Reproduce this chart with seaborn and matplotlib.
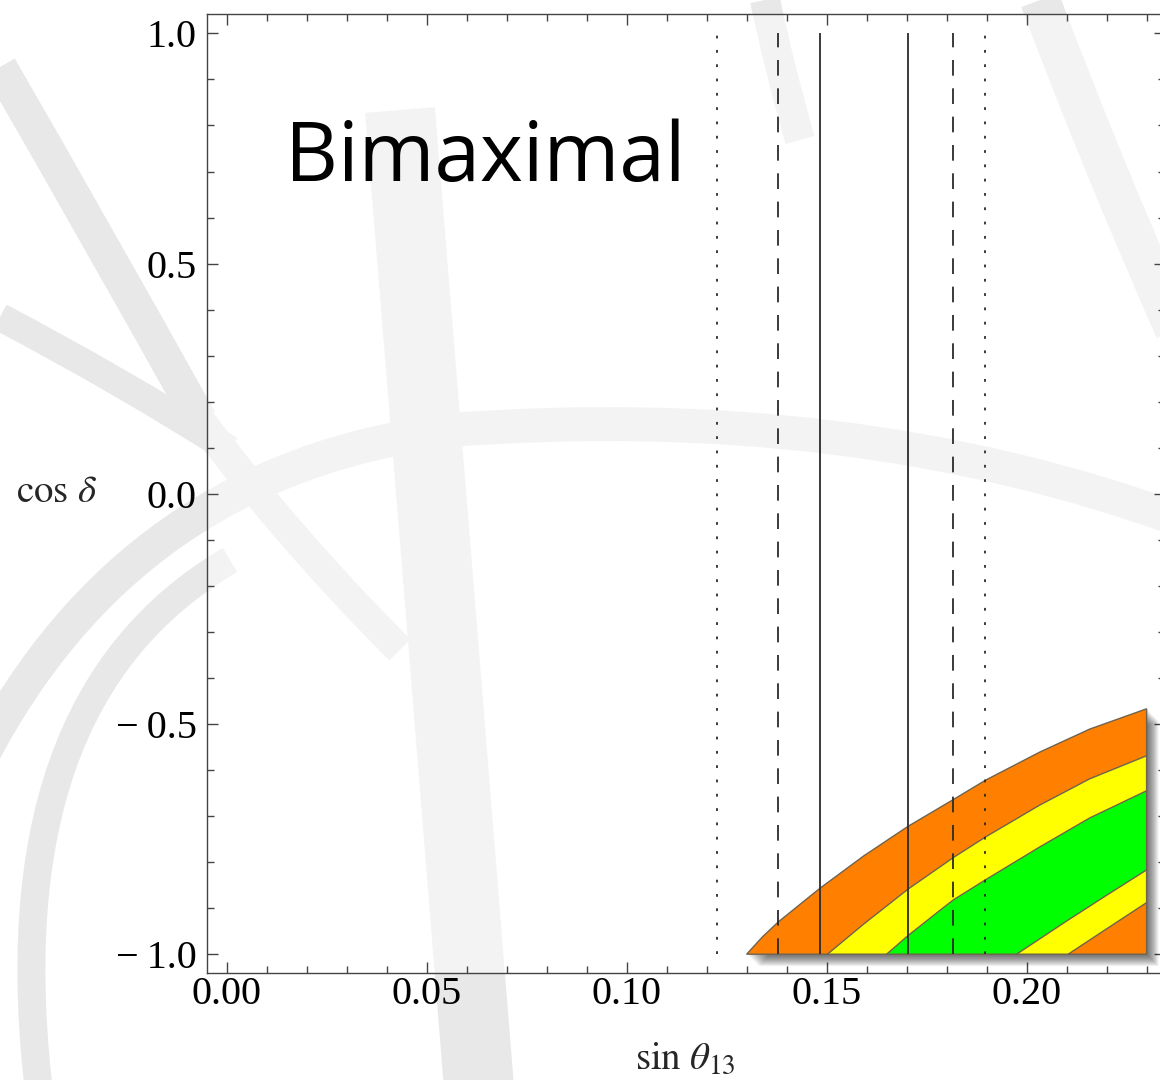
import numpy as np
import pandas as pd
import seaborn as sns
import matplotlib
matplotlib.use("Agg")
import matplotlib.pyplot as plt
from matplotlib.path import Path
from matplotlib.patches import PathPatch
from matplotlib.ticker import MultipleLocator
import matplotlib.transforms as mtransforms

# ---------------- data ----------------
x_ticks = [0.00, 0.05, 0.10, 0.15, 0.20]
x_tick_labels = ["0.00", "0.05", "0.10", "0.15", "0.20"]
y_ticks = [-1.0, -0.5, 0.0, 0.5, 1.0]
y_tick_labels = ["\u2212\u20091.0", "\u2212\u20090.5", "0.0", "0.5", "1.0"]

# sin(theta13) experimental ranges (vertical lines)
sigma1_lines = [0.1483, 0.1703]
sigma2_lines = [0.1378, 0.1817]
sigma3_lines = [0.1225, 0.1897]
line_ymin, line_ymax = -1.0, 1.0

# boundaries of the allowed bands (sin theta13, cos delta)
top_x = [0.130, 0.1340, 0.1379, 0.1483, 0.1592, 0.1703, 0.1817, 0.1898, 0.2033, 0.2158, 0.230]
top_y = [-1.000, -0.962, -0.930, -0.857, -0.787, -0.7226, -0.664, -0.6217, -0.561, -0.511, -0.467]

oy_x = [0.1502, 0.1592, 0.1703, 0.1817, 0.1898, 0.2033, 0.2158, 0.230]
oy_y = [-1.000, -0.935, -0.859, -0.790, -0.745, -0.676, -0.619, -0.569]

yg_x = [0.165, 0.1703, 0.1783, 0.1817, 0.1898, 0.2033, 0.2158, 0.230]
yg_y = [-1.000, -0.960, -0.905, -0.882, -0.838, -0.767, -0.704, -0.645]

gy_x = [0.1975, 0.210, 0.220, 0.230]
gy_y = [-1.000, -0.928, -0.872, -0.817]

yo_x = [0.2104, 0.220, 0.230]
yo_y = [-1.000, -0.945, -0.888]

edge_x = 0.230
floor_y = -1.0

col_orange = "#FF8000"
col_yellow = "#FFFF00"
col_green = "#00FF00"
col_edge = "#6e6350"

# ---------------- figure ----------------
sns.set_theme(style="ticks")
plt.rcParams["font.family"] = ["Liberation Serif", "DejaVu Serif"]
plt.rcParams["mathtext.fontset"] = "stix"
plt.rcParams["lines.scale_dashes"] = False

W, H = 1160, 1080
fig = plt.figure(figsize=(W / 100, H / 100), dpi=100, facecolor="white")

# decorative background strokes (slide watermark), figure pixel coordinates
strokes = [
    ([(0, 67), (100, 240), (200, 420)], 34),
    ([(200, 420), (290, 540), (400, 650)], 30),
    ([(0, 317), (120, 380), (230, 450)], 28),
    ([(-20, 760), (130, 470), (450, 430)], 34),
    ([(450, 430), (850, 400), (1180, 520)], 34),
    ([(400, 110), (440, 600), (480, 1100)], 70),
    ([(765, 0), (780, 70), (800, 140)], 30),
    ([(1040, 0), (1100, 160), (1175, 330)], 40),
    ([(40, 1100), (-10, 700), (230, 560)], 28),
]
for pts, lw in strokes:
    verts = [(px / W, 1 - py / H) for px, py in pts]
    path = Path(verts, [Path.MOVETO, Path.CURVE3, Path.CURVE3])
    fig.add_artist(PathPatch(path, fill=False, lw=lw * 0.72, edgecolor="#e8e8e8",
                             transform=fig.transFigure, zorder=-5,
                             capstyle="butt"))

ax = fig.add_axes([206.7 / W, (H - 973.3) / H, (1165 - 206.7) / W, (973.3 - 14.3) / H])
ax.patch.set_facecolor("white")
ax.patch.set_alpha(0.5)
ax.set_xlim(-0.005, 0.2346)
ax.set_ylim(-1.0415, 1.0415)

# shadow of the allowed region
union_x = top_x + [edge_x]
union_y = top_y + [floor_y]
for k in range(1, 15):
    tr = mtransforms.offset_copy(ax.transData, fig=fig, x=k * 0.85, y=-k * 0.85, units="dots")
    ax.fill(union_x, union_y, color="black", alpha=0.05, lw=0, transform=tr, zorder=1)

# bands
ax.fill(union_x, union_y, color=col_orange, lw=0, zorder=2)
ax.fill(oy_x + yo_x[::-1], oy_y + yo_y[::-1], color=col_yellow, lw=0, zorder=3)
ax.fill(yg_x + gy_x[::-1], yg_y + gy_y[::-1], color=col_green, lw=0, zorder=4)

bounds = pd.concat([
    pd.DataFrame({"s13": xs, "cosd": ys, "curve": name})
    for name, xs, ys in [("oy", oy_x, oy_y), ("yg", yg_x, yg_y),
                         ("gy", gy_x, gy_y), ("yo", yo_x, yo_y)]
])
sns.lineplot(data=bounds, x="s13", y="cosd", units="curve", estimator=None,
             sort=False, color=col_edge, lw=1.0, ax=ax, zorder=5, legend=False)
ax.fill(union_x, union_y, fill=False, lw=1.0, edgecolor=col_edge, zorder=5)

# experimental ranges
ax.vlines(sigma1_lines, line_ymin, line_ymax, colors="#2b2b2b", lw=1.3, zorder=6)
ax.vlines(sigma2_lines, line_ymin, line_ymax, colors="#2b2b2b", lw=1.3,
          linestyles=[(0, (11.3, 9.1))], zorder=6)
ax.vlines(sigma3_lines, line_ymin, line_ymax, colors="#2b2b2b", lw=1.3,
          linestyles=[(0, (2.0, 8.3))], zorder=6)

# axes styling
ax.set_xticks(x_ticks)
ax.set_xticklabels(x_tick_labels)
ax.set_yticks(y_ticks)
ax.set_yticklabels(y_tick_labels)
ax.xaxis.set_minor_locator(MultipleLocator(0.01))
ax.yaxis.set_minor_locator(MultipleLocator(0.1))
ax.tick_params(which="both", direction="in", top=True, right=True,
               colors="#444444", labelcolor="black", width=1.0)
ax.tick_params(which="major", length=8.2, labelsize=29)
ax.tick_params(which="minor", length=5.0)
ax.tick_params(axis="x", pad=2)
ax.tick_params(axis="y", pad=7.2)
for s in ax.spines.values():
    s.set_color("#444444")
    s.set_linewidth(1.0)
ax.grid(False)

ax.set_xlabel(r"$\sin\,\theta_{13}$", fontsize=28, va="baseline")
ax.xaxis.set_label_coords(0.4996, -0.1001)
ax.set_ylabel(r"$\cos\,\delta$", fontsize=28, rotation=0, ha="right", va="baseline")
ax.yaxis.set_label_coords(-0.1148, 0.4918)

fig.text(285 / W, 1 - 181 / H, "Bimaximal", fontsize=59,
         family=["Open Sans", "DejaVu Sans"], va="baseline", ha="left", color="black")

fig.savefig("out.png", dpi=100, facecolor="white")
